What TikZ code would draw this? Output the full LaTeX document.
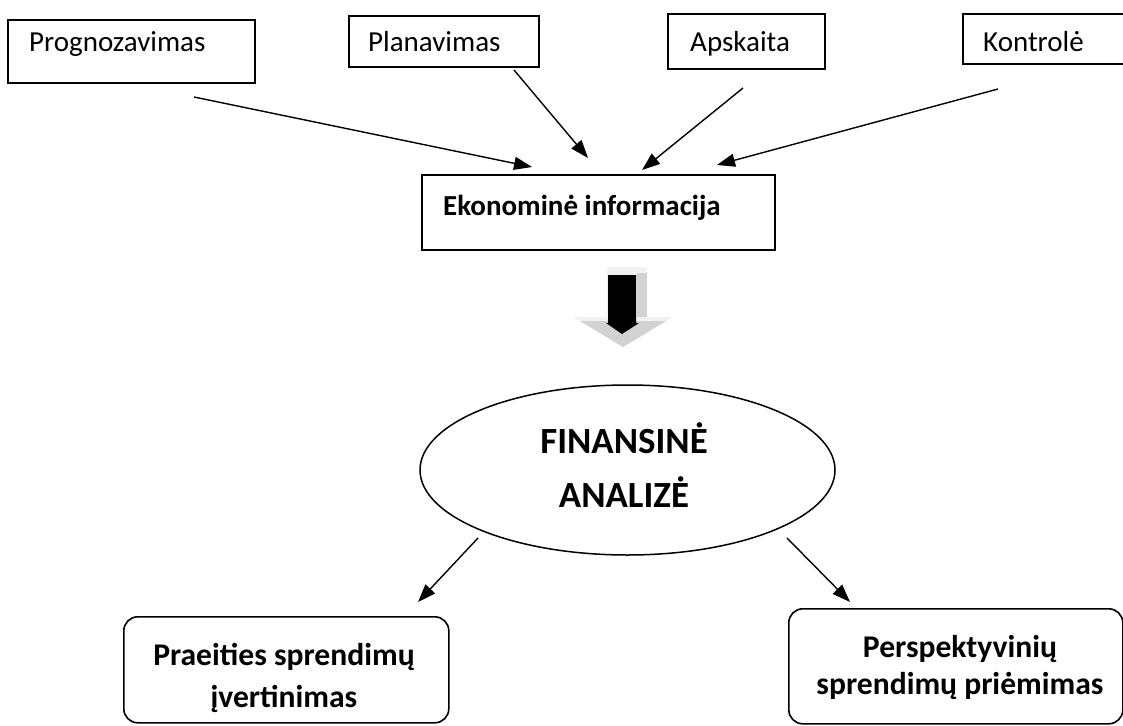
\documentclass[tikz,border=0pt]{standalone}
\usepackage{fontspec}
\setmainfont{Carlito}
\usetikzlibrary{arrows.meta,shapes.geometric}
\begin{document}
\begin{tikzpicture}[x=1pt,y=-1pt,
  box/.style={draw, line width=1.6pt, inner sep=0pt, anchor=north west},
  rbox/.style={draw, line width=1.6pt, rounded corners=14pt, inner sep=0pt, anchor=north west},
  txt/.style={inner sep=0pt, font=\fontsize{29}{35}\selectfont},
  btxt/.style={inner sep=0pt, font=\fontsize{29}{35}\selectfont\bfseries},
  bigtxt/.style={inner sep=0pt, anchor=base, font=\fontsize{36.9}{44}\selectfont\bfseries},
  midtxt/.style={inner sep=0pt, anchor=base, font=\fontsize{31.6}{38}\selectfont\bfseries},
  arr/.style={line width=1.4pt, -{Triangle[length=18pt,width=13pt]}},
]
\useasboundingbox (0,0) rectangle (1123,725);

% top boxes
\node[box, minimum width=247pt, minimum height=63pt] (prog) at (7,19) {};
\node[txt, anchor=base west] (progt) at (29,52) {Prognozavimas};
\node[box, minimum width=190pt, minimum height=51pt] (plan) at (348,15) {};
\node[txt, anchor=base west] (plant) at (368,52) {Planavimas};
\node[box, minimum width=157pt, minimum height=55pt] (aps) at (667,13) {};
\node[txt, anchor=base west] (apst) at (690,52) {Apskaita};
\node[box, minimum width=161pt, minimum height=50pt] (kon) at (962,13) {};
\node[txt, anchor=base west] (kont) at (983,52) {Kontrolė};

% central box
\node[box, minimum width=353pt, minimum height=75pt] (eko) at (421,174) {};
\node[btxt, anchor=base west] (ekot) at (443,215) {Ekonominė informacija};

% arrows into central box
\coordinate (a1s) at (194,97);  \coordinate (a1e) at (532,167);
\coordinate (a2s) at (514,70);  \coordinate (a2e) at (588,158);
\coordinate (a3s) at (743,88);  \coordinate (a3e) at (642,170);
\coordinate (a4s) at (998,89);  \coordinate (a4e) at (717,165);
\draw[arr] (a1s) -- (a1e);
\draw[arr] (a2s) -- (a2e);
\draw[arr] (a3s) -- (a3e);
\draw[arr] (a4s) -- (a4e);

% block arrow
\fill[gray!10] (607,267) -- (647,267) -- (647,317) -- (673,317) -- (623,347) -- (573,317) -- (607,317) -- cycle;
\fill[gray!35] (637,273) rectangle (647,317);
\fill[gray!35] (580,321) -- (666,321) -- (623,347) -- cycle;
\fill[black] (608,275) -- (636,275) -- (636,323) -- (639,323) -- (622,334) -- (606,323) -- (608,323) -- cycle;

% ellipse
\node[draw, ellipse, line width=1.5pt, minimum width=415pt, minimum height=170pt, inner sep=0pt] (fin) at (627.5,470) {};
\node[bigtxt] (fint1) at (624,453) {FINANSINĖ};
\node[bigtxt] (fint2) at (624,507) {ANALIZĖ};

% lower arrows
\coordinate (b1s) at (478,538); \coordinate (b1e) at (418,602);
\coordinate (b2s) at (787,538); \coordinate (b2e) at (850,602);
\draw[arr] (b1s) -- (b1e);
\draw[arr] (b2s) -- (b2e);

% lower boxes
\node[rbox, minimum width=325pt, minimum height=106pt] (past) at (123,616) {};
\node[midtxt] (pastt1) at (284,665) {Praeities sprendimų};
\node[midtxt] (pastt2) at (284,707) {įvertinimas};
\node[rbox, minimum width=334pt, minimum height=115pt] (pers) at (788,608) {};
\node[midtxt] (perst1) at (960,657) {Perspektyvinių};
\node[midtxt] (perst2) at (960,694) {sprendimų priėmimas};
\end{tikzpicture}
\end{document}
